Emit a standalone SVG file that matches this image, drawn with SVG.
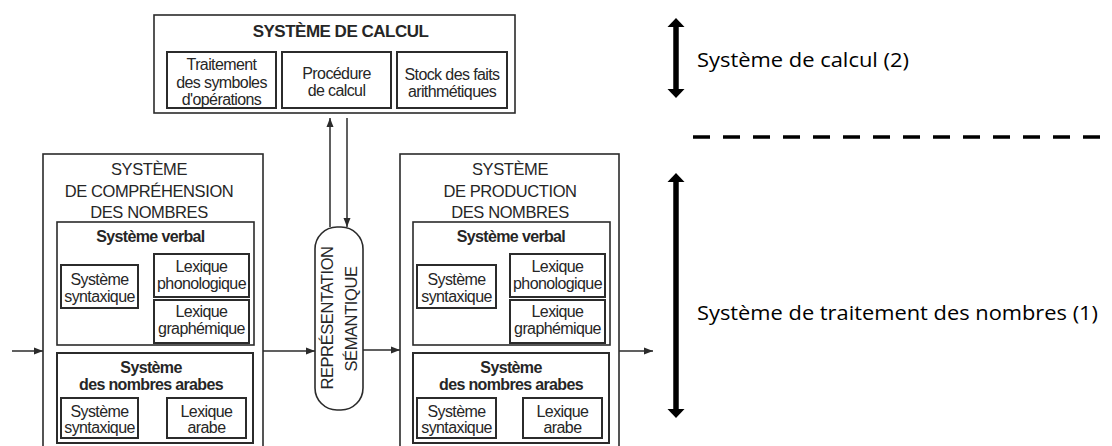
<svg xmlns="http://www.w3.org/2000/svg" width="1112" height="446" viewBox="0 0 1112 446">
<style>
.bx{fill:none;stroke:#2b2b2b;stroke-width:1.6}
.ib{fill:none;stroke:#2b2b2b;stroke-width:2}
.t{font-family:"Liberation Sans",Arial,sans-serif;font-size:16px;letter-spacing:-0.6px;fill:#262626;text-anchor:middle}
.b{font-weight:bold;letter-spacing:-0.65px}
.h{font-size:16.5px;letter-spacing:-0.4px}
.hb{font-size:17px;font-weight:bold;letter-spacing:-0.5px}
.ln{stroke:#2b2b2b;stroke-width:1.5;fill:none}
.rt{font-family:"Open Sans","Noto Sans",sans-serif;font-size:20px;fill:#000}
</style>
<defs>
<marker id="ah" markerWidth="10" markerHeight="8" refX="9" refY="4" orient="auto" markerUnits="userSpaceOnUse">
<path d="M0,0.5 L9,4 L0,7.5 Z" fill="#2b2b2b"/>
</marker>
</defs>
<rect width="1112" height="446" fill="#fff"/>

<g id="calcul">
<rect class="bx" x="154" y="15" width="361" height="98"/>
<text class="t hb" x="340.5" y="37">SYSTÈME DE CALCUL</text>
<rect class="ib" x="167" y="52" width="109" height="56"/>
<text class="t" x="221.5" y="70">Traitement</text>
<text class="t" x="221.5" y="87.5">des symboles</text>
<text class="t" x="221.5" y="105">d'opérations</text>
<rect class="ib" x="282" y="52" width="109" height="56"/>
<text class="t" x="336.5" y="79">Procédure</text>
<text class="t" x="336.5" y="96">de calcul</text>
<rect class="ib" x="397" y="52" width="110" height="56"/>
<text class="t" x="452" y="80">Stock des faits</text>
<text class="t" x="452" y="97">arithmétiques</text>
</g>

<g id="comprehension">
<rect class="bx" x="43" y="154" width="220" height="300"/>
<text class="t h" x="149" y="175">SYSTÈME</text>
<text class="t h" x="149" y="197">DE COMPRÉHENSION</text>
<text class="t h" x="149" y="218">DES NOMBRES</text>
<rect class="bx" x="57" y="222" width="197" height="123"/>
<text class="t b" x="150.5" y="242">Système verbal</text>
<rect class="ib" x="61" y="265" width="77" height="43"/>
<text class="t" x="99.5" y="285">Système</text>
<text class="t" x="99.5" y="302">syntaxique</text>
<rect class="ib" x="154" y="254" width="95" height="43"/>
<text class="t" x="201.5" y="272">Lexique</text>
<text class="t" x="201.5" y="289">phonologique</text>
<rect class="ib" x="154" y="300" width="95" height="43"/>
<text class="t" x="201.5" y="317">Lexique</text>
<text class="t" x="201.5" y="334">graphémique</text>
<rect class="ib" x="57" y="353" width="196" height="90"/>
<text class="t b" x="151" y="373">Système</text>
<text class="t b" x="151" y="390">des nombres arabes</text>
<rect class="ib" x="61" y="398" width="77" height="40"/>
<text class="t" x="99.5" y="417">Système</text>
<text class="t" x="99.5" y="433">syntaxique</text>
<rect class="ib" x="167" y="398" width="79" height="40"/>
<text class="t" x="206.5" y="417">Lexique</text>
<text class="t" x="206.5" y="433">arabe</text>
</g>

<g id="semantique">
<rect class="bx" x="315" y="227" width="48" height="183" rx="22" ry="22"/>
<text class="t h" transform="translate(333,318) rotate(-90)">REPRÉSENTATION</text>
<text class="t h" transform="translate(357,319) rotate(-90)">SÉMANTIQUE</text>
</g>

<g id="production">
<rect class="bx" x="400" y="154" width="219" height="300"/>
<text class="t h" x="510" y="175">SYSTÈME</text>
<text class="t h" x="510" y="197">DE PRODUCTION</text>
<text class="t h" x="510" y="218">DES NOMBRES</text>
<rect class="bx" x="413" y="222" width="197" height="123"/>
<text class="t b" x="511" y="242">Système verbal</text>
<rect class="ib" x="417" y="265" width="79" height="43"/>
<text class="t" x="456.5" y="285">Système</text>
<text class="t" x="456.5" y="302">syntaxique</text>
<rect class="ib" x="510" y="254" width="95" height="43"/>
<text class="t" x="557.5" y="272">Lexique</text>
<text class="t" x="557.5" y="289">phonologique</text>
<rect class="ib" x="510" y="300" width="95" height="43"/>
<text class="t" x="557.5" y="317">Lexique</text>
<text class="t" x="557.5" y="334">graphémique</text>
<rect class="ib" x="413" y="353" width="196" height="90"/>
<text class="t b" x="511" y="373">Système</text>
<text class="t b" x="511" y="390">des nombres arabes</text>
<rect class="ib" x="417" y="398" width="79" height="40"/>
<text class="t" x="456.5" y="417">Système</text>
<text class="t" x="456.5" y="433">syntaxique</text>
<rect class="ib" x="523" y="398" width="79" height="40"/>
<text class="t" x="562.5" y="417">Lexique</text>
<text class="t" x="562.5" y="433">arabe</text>
</g>

<g id="connectors">
<line class="ln" x1="12" y1="351" x2="43" y2="351" marker-end="url(#ah)"/>
<line class="ln" x1="263" y1="351" x2="315" y2="351" marker-end="url(#ah)"/>
<line class="ln" x1="363" y1="350" x2="400" y2="350" marker-end="url(#ah)"/>
<line class="ln" x1="619" y1="351" x2="653" y2="351" marker-end="url(#ah)"/>
<line class="ln" x1="330" y1="227" x2="330" y2="118" marker-end="url(#ah)"/>
<line class="ln" x1="347" y1="118" x2="347" y2="227" marker-end="url(#ah)"/>
</g>

<g id="legend">
<line x1="676" y1="25" x2="676" y2="91" stroke="#000" stroke-width="5.5"/>
<polygon points="676,18 684.5,27 667.5,27" fill="#000"/>
<polygon points="676,98 684.5,89 667.5,89" fill="#000"/>
<text class="rt" x="697" y="67" textLength="212" lengthAdjust="spacingAndGlyphs">Système de calcul (2)</text>
<line x1="693" y1="137" x2="1112" y2="137" stroke="#000" stroke-width="3.5" stroke-dasharray="17 13"/>
<line x1="676" y1="180" x2="676" y2="411" stroke="#000" stroke-width="5.5"/>
<polygon points="676,173 684.5,182 667.5,182" fill="#000"/>
<polygon points="676,418 684.5,409 667.5,409" fill="#000"/>
<text class="rt" x="697" y="320" textLength="401" lengthAdjust="spacingAndGlyphs">Système de traitement des nombres (1)</text>
</g>
</svg>
